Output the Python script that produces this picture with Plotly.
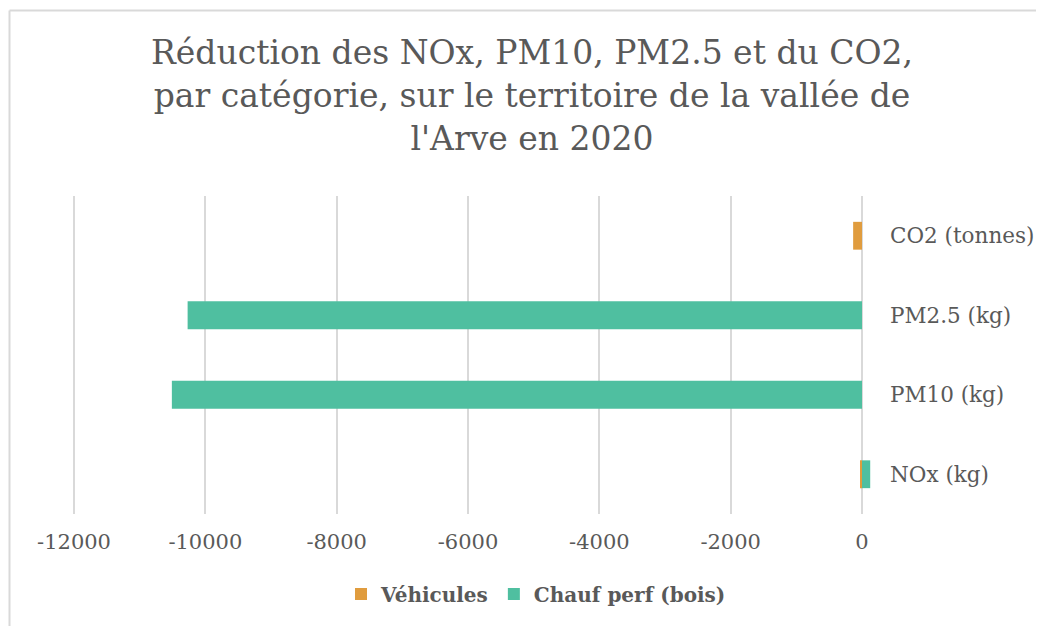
import plotly.graph_objects as go

categories = ["NOx (kg)", "PM10 (kg)", "PM2.5 (kg)", "CO2 (tonnes)"]
vehicules = [-30, 0, 0, -135]
chauf_perf = [125, -10510, -10270, 0]
x_ticks = [-12000, -10000, -8000, -6000, -4000, -2000, 0]

ORANGE = "#E09C3E"
TEAL = "#4FBFA0"
TXT = "#595959"
GRID = "#D9D9D9"
FONT = "DejaVu Serif"

fig = go.Figure()
fig.add_trace(go.Bar(y=categories, x=vehicules, name="Véhicules", orientation="h",
                     marker=dict(color=ORANGE, line=dict(width=0))))
fig.add_trace(go.Bar(y=categories, x=chauf_perf, name="Chauf perf (bois)", orientation="h",
                     marker=dict(color=TEAL, line=dict(width=0))))

# page body has an 8px margin: figure coordinates = screen - 8
W, H = 1036, 618
L, R, T, B = 63, 173, 188, 112
pw = W - L - R
ph = H - T - B

fig.update_layout(
    width=W, height=H,
    barmode="relative",
    bargap=0.65,
    plot_bgcolor="white", paper_bgcolor="white",
    margin=dict(l=L, r=R, t=T, b=B, autoexpand=False),
    font=dict(family=FONT, color=TXT, size=20),
    title=dict(
        text="Réduction des NOx, PM10, PM2.5 et du CO2,<br>par catégorie, sur le territoire de la vallée de<br>l'Arve en 2020",
        font=dict(family=FONT, size=33, color=TXT),
        x=524 / W, xanchor="center", xref="container",
        y=1 - 56 / H, yanchor="top", yref="container",
    ),
    xaxis=dict(
        range=[-12046, 137], tickvals=x_ticks, ticktext=[str(v) for v in x_ticks],
        showgrid=True, gridcolor=GRID, gridwidth=2, zeroline=False, showline=False,
        ticks="", ticklabelstandoff=13, automargin=False,
        tickfont=dict(family=FONT, size=21, color=TXT),
    ),
    yaxis=dict(
        side="right", showgrid=False, zeroline=False, showline=False, ticks="",
        ticklabelstandoff=18, automargin=False,
        tickfont=dict(family=FONT, size=21.5, color=TXT),
    ),
    legend=dict(
        orientation="h", x=(528 - L) / pw, xanchor="center",
        y=-(586 - (T + ph)) / ph, yanchor="middle",
        font=dict(family=FONT, size=20, color=TXT, weight="bold"),
        itemwidth=30, traceorder="normal",
    ),
    shapes=[
        dict(type="line", xref="paper", yref="paper",
             x0=(1.5 - L) / pw, x1=(1060 - L) / pw, y0=1 + (T - 2.5) / ph, y1=1 + (T - 2.5) / ph,
             line=dict(color=GRID, width=2)),
        dict(type="line", xref="paper", yref="paper",
             x0=(1.5 - L) / pw, x1=(1.5 - L) / pw, y0=1 + (T - 2.5) / ph, y1=-(640 - T - ph) / ph,
             line=dict(color=GRID, width=2)),
    ],
    showlegend=True,
)

fig.write_html("out.html")
